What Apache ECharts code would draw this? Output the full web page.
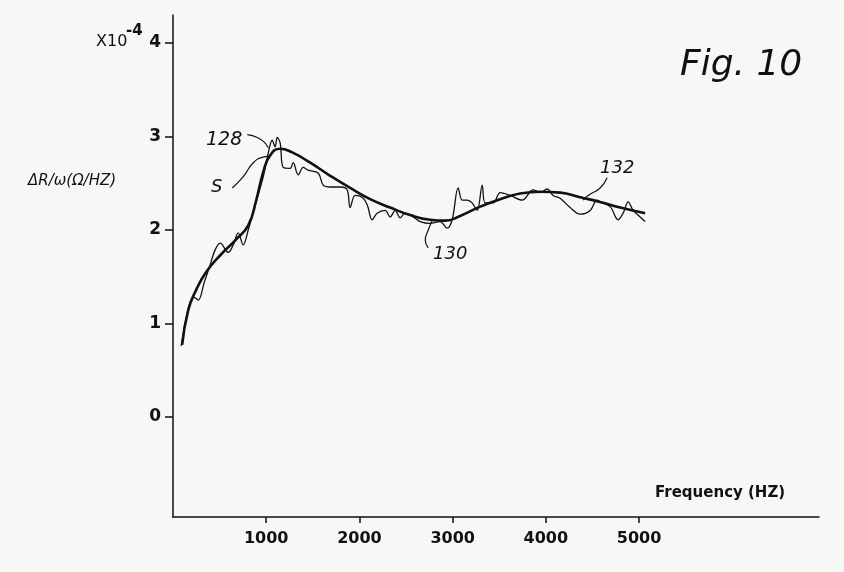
<!DOCTYPE html>
<html><head><meta charset="utf-8">
<script src="https://cdn.jsdelivr.net/npm/echarts@6/dist/echarts.min.js"></script>
<style>html,body{margin:0;padding:0;background:#f7f7f7}#c{width:844px;height:572px}</style>
</head><body><div id="c"></div>
<script>
// Measured curve (thin, line S / 128)
const measuredFreq = [88,142,185,228,271,335,399,453,507,592,646,700,753,807,882,968,1021,1064,1096,1118,1150,1182,1257,1289,1343,1396,1450,1557,1611,1686,1793,1868,1900,1954,2029,2083,2137,2190,2276,2330,2383,2437,2490,2576,2651,2758,2866,2941,2995,3059,3102,3156,3209,3263,3317,3349,3435,3510,3617,3746,3864,3939,4014,4078,4153,4260,4368,4475,4550,4582,4690,4775,4829,4883,4936,5011,5065];
const measuredVal = [0.76,1.06,1.23,1.28,1.25,1.44,1.63,1.79,1.86,1.76,1.84,1.97,1.84,2.0,2.27,2.57,2.82,2.96,2.89,2.99,2.93,2.67,2.66,2.72,2.59,2.67,2.64,2.61,2.48,2.46,2.46,2.43,2.24,2.37,2.35,2.27,2.11,2.18,2.21,2.14,2.21,2.13,2.18,2.14,2.09,2.07,2.09,2.02,2.11,2.45,2.32,2.32,2.29,2.21,2.48,2.29,2.29,2.40,2.37,2.32,2.43,2.40,2.44,2.37,2.34,2.24,2.17,2.21,2.32,2.30,2.25,2.11,2.18,2.30,2.21,2.14,2.09];
// Smoothed curve (thick, 130 / 132)
const smoothFreq = [98,163,249,356,507,668,807,893,968,1043,1150,1279,1472,1686,1900,2115,2330,2544,2758,2919,3080,3295,3510,3724,3939,4153,4368,4582,4797,5065];
const smoothVal = [0.77,1.14,1.36,1.55,1.73,1.89,2.05,2.32,2.62,2.80,2.87,2.83,2.72,2.58,2.45,2.33,2.24,2.16,2.11,2.10,2.15,2.25,2.33,2.39,2.41,2.40,2.35,2.30,2.24,2.18];
// tick labels
const xTicks = [1000,2000,3000,4000,5000];
const yTicks = [0,1,2,3,4];
// annotation leader lines (data coordinates)
const leader128 = [[797,3.02],[904,2.99],[979,2.94],[1021,2.88]];
const leaderS = [[636,2.45],[754,2.57],[861,2.72],[968,2.78],[1043,2.79]];
const leader130 = [[2738,1.81],[2706,1.89],[2738,2.0],[2780,2.10]];
const leader132 = [[4657,2.56],[4582,2.45],[4453,2.37],[4400,2.32]];

const zip = (a,b)=>a.map((v,i)=>[v,b[i]]);
const chart = echarts.init(document.getElementById('c'));
const ink = '#111';
const leaderSeries = d => ({type:'line',data:d,smooth:0.5,showSymbol:false,silent:true,lineStyle:{color:ink,width:1.2},z:1});
const lbl = (text,x,y,size,extra)=>({type:'text',left:x,top:y,style:Object.assign({text:text,fill:ink,font:'italic '+size+'px "DejaVu Sans"'},extra||{})});
chart.setOption({
  backgroundColor:'#f7f7f7',
  animation:false,
  grid:{left:173,top:15,right:25,bottom:55},
  xAxis:{type:'value',min:0,max:6930,
    axisLine:{onZero:false,lineStyle:{color:ink,width:1.5}},
    axisTick:{show:true,length:6,lineStyle:{color:ink,width:1.5},customValues:xTicks},
    axisLabel:{customValues:xTicks,formatter:v=>String(v),color:ink,fontSize:16,fontWeight:'bold',fontFamily:'DejaVu Sans',margin:14},
    splitLine:{show:false}},
  yAxis:{type:'value',min:-1.07,max:4.3,
    axisLine:{show:true,onZero:false,lineStyle:{color:ink,width:1.5}},
    axisTick:{show:true,length:8,lineStyle:{color:ink,width:1.5},customValues:yTicks},
    axisLabel:{customValues:yTicks,formatter:v=>String(v),color:ink,fontSize:17,fontWeight:'bold',fontFamily:'DejaVu Sans',margin:12},
    splitLine:{show:false}},
  series:[
    {type:'line',data:zip(measuredFreq,measuredVal),smooth:0.35,showSymbol:false,lineStyle:{color:ink,width:1.3},z:2},
    {type:'line',data:zip(smoothFreq,smoothVal),smooth:0.5,showSymbol:false,lineStyle:{color:ink,width:2.6},z:3},
    leaderSeries(leader128),leaderSeries(leaderS),leaderSeries(leader130),leaderSeries(leader132)
  ],
  graphic:[
    {type:'text',left:96,top:34,style:{text:'X10',fill:ink,font:'16px "DejaVu Sans"'}},
    {type:'text',left:126,top:24,style:{text:'-4',fill:ink,font:'bold 15px "DejaVu Sans"'}},
    lbl('ΔR/ω(Ω/HZ)',28,174,15),
    lbl('Fig. 10',680,48,36),
    {type:'text',left:655,top:486,style:{text:'Frequency (HZ)',fill:ink,font:'bold 15px "DejaVu Sans"'}},
    lbl('128',206,131,19),
    lbl('S',211,178,18),
    lbl('130',433,245,18),
    lbl('132',600,159,18)
  ]
});
</script></body></html>
